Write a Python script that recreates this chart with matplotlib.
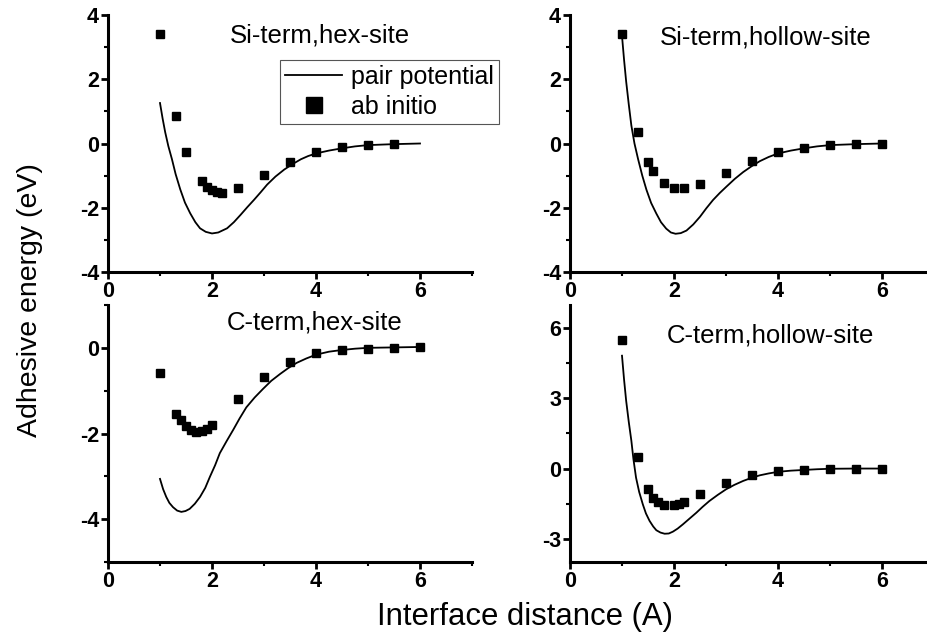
import matplotlib
matplotlib.use("Agg")
import matplotlib.pyplot as plt
from matplotlib.ticker import MultipleLocator

plt.rcParams['font.family'] = ['Liberation Sans', 'DejaVu Sans']
plt.rcParams['axes.unicode_minus'] = False

# ---- Data ----
# Si-term, hex-site
sh_ab_x = [1.0, 1.3, 1.5, 1.8, 1.9, 2.0, 2.1, 2.2, 2.5, 3.0, 3.5, 4.0, 4.5, 5.0, 5.5]
sh_ab_y = [3.41, 0.87, -0.25, -1.18, -1.35, -1.46, -1.51, -1.54, -1.39, -0.98, -0.59, -0.28, -0.12, -0.04, -0.02]
sh_pp_x = [1.00, 1.05, 1.10, 1.16, 1.23, 1.30, 1.39, 1.48, 1.58, 1.68, 1.77, 1.88, 2.00, 2.12, 2.29, 2.42, 2.55, 2.68, 2.81, 2.94, 3.06, 3.22, 3.39, 3.55, 3.71, 3.85, 4.00, 4.25, 4.50, 4.75, 5.00, 5.50, 6.00]
sh_pp_y = [1.26, 0.78, 0.35, -0.08, -0.49, -0.95, -1.43, -1.84, -2.17, -2.45, -2.64, -2.75, -2.80, -2.77, -2.64, -2.45, -2.22, -1.98, -1.75, -1.51, -1.28, -1.03, -0.81, -0.64, -0.49, -0.39, -0.31, -0.22, -0.15, -0.09, -0.05, -0.02, 0.0]

# Si-term, hollow-site
sl_ab_x = [1.0, 1.3, 1.5, 1.6, 1.8, 2.0, 2.2, 2.5, 3.0, 3.5, 4.0, 4.5, 5.0, 5.5, 6.0]
sl_ab_y = [3.40, 0.37, -0.58, -0.86, -1.23, -1.39, -1.39, -1.26, -0.92, -0.56, -0.28, -0.13, -0.05, -0.02, -0.01]
sl_pp_x = [1.00, 1.04, 1.08, 1.13, 1.18, 1.24, 1.31, 1.39, 1.47, 1.56, 1.66, 1.75, 1.85, 1.94, 2.03, 2.13, 2.24, 2.37, 2.50, 2.62, 2.75, 2.88, 3.01, 3.17, 3.33, 3.49, 3.65, 3.82, 4.00, 4.25, 4.50, 4.75, 5.00, 5.50, 6.00]
sl_pp_y = [3.35, 2.60, 1.93, 1.22, 0.56, 0.00, -0.49, -1.00, -1.44, -1.85, -2.18, -2.45, -2.65, -2.77, -2.81, -2.79, -2.71, -2.52, -2.28, -2.02, -1.76, -1.54, -1.34, -1.10, -0.89, -0.71, -0.55, -0.42, -0.31, -0.22, -0.15, -0.09, -0.05, -0.02, 0.0]

# C-term, hex-site
ch_ab_x = [1.0, 1.3, 1.4, 1.5, 1.6, 1.7, 1.8, 1.9, 2.0, 2.5, 3.0, 3.5, 4.0, 4.5, 5.0, 5.5, 6.0]
ch_ab_y = [-0.59, -1.55, -1.69, -1.83, -1.92, -1.97, -1.94, -1.89, -1.81, -1.20, -0.67, -0.32, -0.13, -0.05, -0.02, 0.0, 0.02]
ch_pp_x = [1.00, 1.06, 1.12, 1.18, 1.25, 1.33, 1.41, 1.49, 1.57, 1.67, 1.77, 1.87, 1.96, 2.06, 2.15, 2.28, 2.41, 2.53, 2.66, 2.82, 2.98, 3.14, 3.31, 3.47, 3.63, 3.81, 4.00, 4.25, 4.50, 4.75, 5.00, 5.50, 6.00]
ch_pp_y = [-3.06, -3.30, -3.48, -3.62, -3.72, -3.80, -3.83, -3.81, -3.76, -3.64, -3.48, -3.27, -3.01, -2.74, -2.46, -2.18, -1.91, -1.65, -1.39, -1.16, -0.96, -0.77, -0.61, -0.47, -0.35, -0.25, -0.16, -0.09, -0.05, -0.02, 0.00, 0.01, 0.02]

# C-term, hollow-site
cl_ab_x = [1.0, 1.3, 1.5, 1.6, 1.7, 1.8, 2.0, 2.1, 2.2, 2.5, 3.0, 3.5, 4.0, 4.5, 5.0, 5.5, 6.0]
cl_ab_y = [5.51, 0.51, -0.87, -1.26, -1.43, -1.54, -1.57, -1.50, -1.43, -1.09, -0.63, -0.29, -0.11, -0.06, -0.03, 0.0, 0.0]
cl_pp_x = [1.00, 1.04, 1.08, 1.13, 1.18, 1.22, 1.27, 1.33, 1.40, 1.46, 1.53, 1.60, 1.66, 1.74, 1.82, 1.90, 1.98, 2.07, 2.17, 2.30, 2.43, 2.55, 2.68, 2.84, 3.00, 3.16, 3.33, 3.49, 3.65, 3.82, 4.00, 4.25, 4.50, 4.75, 5.00, 5.50, 6.00]
cl_pp_y = [4.83, 3.80, 2.90, 2.00, 1.19, 0.40, -0.39, -1.00, -1.53, -1.92, -2.24, -2.48, -2.64, -2.74, -2.79, -2.78, -2.70, -2.57, -2.39, -2.14, -1.89, -1.64, -1.39, -1.13, -0.89, -0.70, -0.53, -0.40, -0.29, -0.21, -0.14, -0.09, -0.06, -0.03, -0.01, 0.0, 0.0]

panels = [
    ("Si-term,hex-site", sh_pp_x, sh_pp_y, sh_ab_x, sh_ab_y, (-4, 4), 2, 1),
    ("Si-term,hollow-site", sl_pp_x, sl_pp_y, sl_ab_x, sl_ab_y, (-4, 4), 2, 1),
    ("C-term,hex-site", ch_pp_x, ch_pp_y, ch_ab_x, ch_ab_y, (-5, 1), 2, 1),
    ("C-term,hollow-site", cl_pp_x, cl_pp_y, cl_ab_x, cl_ab_y, (-4, 7), 3, 1.5),
]

W, H = 928, 642
fig = plt.figure(figsize=(W / 100, H / 100), dpi=100)

rects = [
    (108, 15, 472, 272),
    (570, 15, 934, 272),
    (108, 305, 472, 562),
    (570, 305, 934, 562),
]
title_pos = [(0.582, 0.922), (0.539, 0.914), (0.569, 0.930), (0.552, 0.883)]

axes = []
for (l, t, r, b), (title, px, py, ax_x, ax_y, ylim, maj, mnr), tp in zip(rects, panels, title_pos):
    ax = fig.add_axes([l / W, 1 - b / H, (r - l) / W, (b - t) / H])
    ln, = ax.plot(px, py, color='black', lw=1.3, label='pair potential')
    sc, = ax.plot(ax_x, ax_y, 's', color='black', ms=6.2, ls='none', label='ab initio')
    ax.set_xlim(0, 7)
    ax.set_ylim(*ylim)
    ax.xaxis.set_major_locator(MultipleLocator(2))
    ax.xaxis.set_minor_locator(MultipleLocator(1))
    ax.yaxis.set_major_locator(MultipleLocator(maj))
    ax.yaxis.set_minor_locator(MultipleLocator(mnr))
    for s in ['top', 'right']:
        ax.spines[s].set_visible(False)
    for s in ['left', 'bottom']:
        ax.spines[s].set_linewidth(2.2)
    ax.tick_params(which='major', direction='out', length=5, width=2, labelsize=15.5, pad=1.5)
    ax.tick_params(which='minor', direction='out', length=3, width=1.5)
    for lab in ax.get_xticklabels() + ax.get_yticklabels():
        lab.set_fontweight('bold')
    ax.text(tp[0], tp[1], title, transform=ax.transAxes, ha='center', va='center', fontsize=18.5)
    ax.patch.set_alpha(0)
    axes.append(ax)

leg = axes[0].legend(loc='upper left', bbox_to_anchor=(0.4725, 0.825), fontsize=18,
                     frameon=True, fancybox=False, edgecolor='#555555', framealpha=1,
                     handlelength=2.3, handletextpad=0.36, borderpad=0.2, labelspacing=0.25,
                     borderaxespad=0)
leg.get_frame().set_linewidth(0.8)
leg.legend_handles[1].set_markersize(12)

fig.text(525 / W, 1 - 617 / H, "Interface distance (A)", ha='center', va='center', fontsize=22.4)
fig.text(30 / W, 1 - 300 / H, "Adhesive energy (eV)", ha='center', va='center', fontsize=20.5, rotation=90)

fig.savefig("out.png", dpi=100)
